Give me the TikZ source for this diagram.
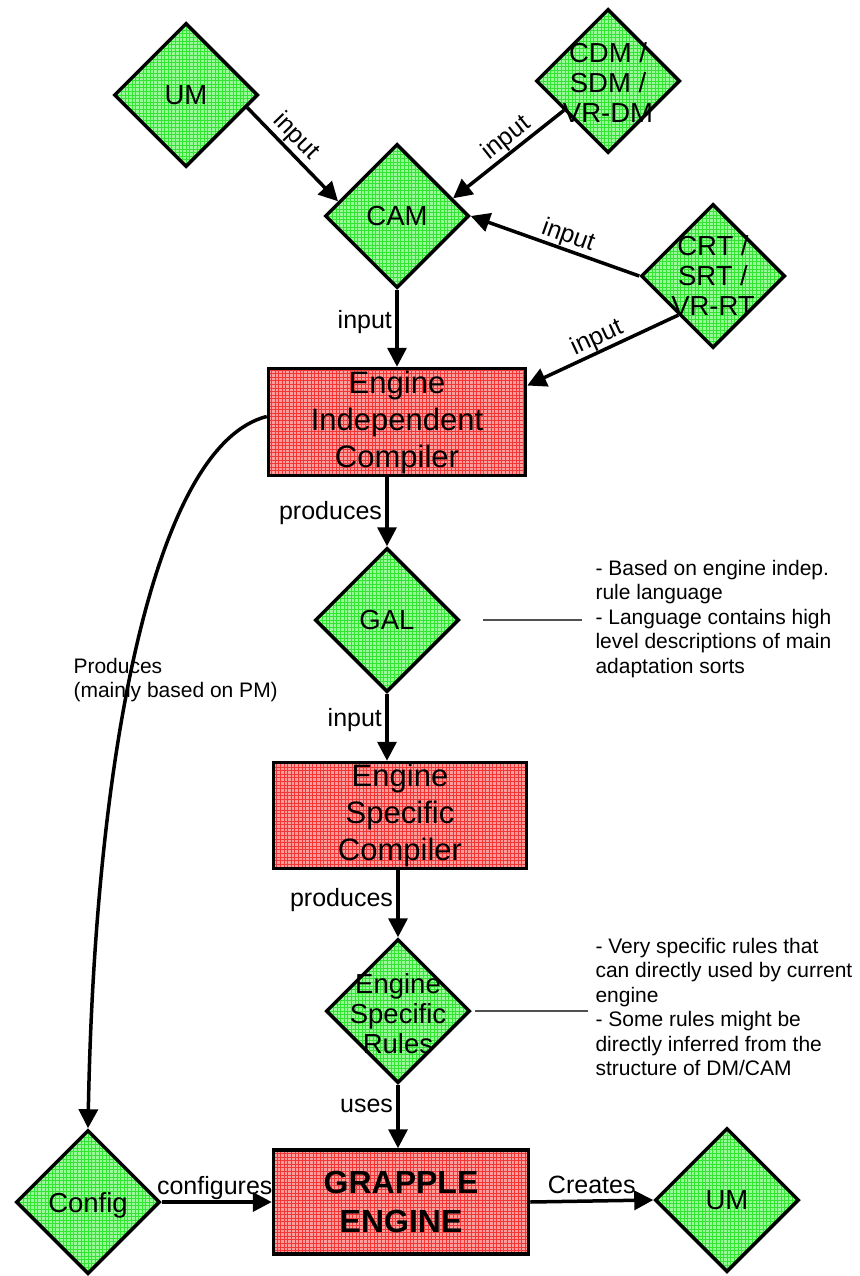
\documentclass[tikz,border=0pt]{standalone}
\usepackage{fontspec}
\setmainfont{Liberation Sans}
\usetikzlibrary{shapes.geometric, arrows.meta, calc}

\definecolor{dfill}{HTML}{98FA98}
\definecolor{dgrid}{HTML}{33E433}
\definecolor{bfill}{HTML}{FF9C9C}
\definecolor{bgrid}{HTML}{F23535}
\definecolor{notegray}{HTML}{505050}

\begin{document}
\begin{tikzpicture}[x=1pt, y=-1pt,
  dia/.style={diamond, draw, line width=3.5pt, fill=dfill, shape aspect=1,
    minimum width=144pt, minimum height=144pt, inner sep=0pt,
    path picture={\draw[dgrid, line width=0.6pt]
      (path picture bounding box.south west) grid[step=3.6pt]
      (path picture bounding box.north east);}},
  dtext/.style={align=center, font=\fontsize{27.5}{30}\selectfont},
  box/.style={rectangle, draw, line width=3.5pt, fill=bfill, inner sep=0pt,
    align=center, font=\fontsize{31}{37}\selectfont,
    path picture={\draw[bgrid, line width=0.6pt]
      (path picture bounding box.south west) grid[step=3.6pt]
      (path picture bounding box.north east);}},
  arr/.style={line width=3.5pt, -{Triangle[length=19pt, width=19pt]}},
  lab/.style={font=\fontsize{25}{29}\selectfont, text=black, text depth=0.21em},
  note/.style={align=left, font=\fontsize{21}{24.5}\selectfont},
  noteline/.style={draw=notegray, line width=1.3pt}
]
\useasboundingbox (0,0) rectangle (859,1276);
\fill[white] (0,0) rectangle (859,1276);

% model sources
\node[dia, label={[dtext]center:UM}] (umin) at (186,95) {};
\node[dia, label={[dtext]center:CAM}] (cam) at (397,216) {};
\node[dia, label={[dtext, yshift=-2pt]center:{CDM /\\SDM /\\VR-DM}}] (cdm) at (608,81) {};
\node[dia, label={[dtext]center:{CRT /\\SRT /\\VR-RT}}] (crt) at (713,276) {};

% compilation chain
\node[box, minimum width=257pt, minimum height=107pt] (eic) at (397,422)
  {Engine\\Independent\\Compiler};
\node[dia, label={[dtext]center:GAL}] (gal) at (387,620) {};
\node[box, minimum width=253pt, minimum height=106pt] (esc) at (400,815.5)
  {Engine\\Specific\\Compiler};
\node[dia, label={[dtext, yshift=-3pt]center:{Engine\\Specific\\Rules}}] (esr) at (398,1011) {};
\node[box, minimum width=255pt, minimum height=104pt,
  font=\fontsize{32}{39}\bfseries] (grapple) at (401,1202)
  {GRAPPLE\\ENGINE};
\node[dia, label={[dtext, yshift=-3pt]center:Config}] (cfg) at (88,1202) {};
\node[dia, label={[dtext]center:UM}] (umout) at (727,1200) {};

% inputs to CAM and compiler
\draw[arr] ($(umin.east)!0.17!(umin.south)$) -- node[lab, sloped, above=1pt, pos=0.42] {input}
  ($(cam.west)!0.2!(cam.north)$);
\draw[arr] ($(cdm.west)!0.4!(cdm.south)$) -- node[lab, sloped, above, pos=0.44] {input}
  ($(cam.east)!0.24!(cam.north)$);
\draw[arr] (crt.west) -- node[lab, sloped, above, pos=0.45] {input} (cam.east);
\draw[arr] ($(crt.west)!0.53!(crt.south)$) -- node[lab, sloped, above] {input}
  ($(eic.north east)!0.17!(eic.south east)$);
\draw[arr] (cam.south) -- node[lab, left, pos=0.4] {input} (eic.north);

% main chain
\draw[arr] (eic.south -| gal.north) -- node[lab, left] {produces} (gal.north);
\draw[arr] (gal.south) -- node[lab, left, pos=0.37] {input} (gal.south |- esc.north);
\draw[arr] (esc.south -| esr.north) -- node[lab, left, pos=0.42] {produces} (esr.north);
\draw[arr] (esr.south) -- node[lab, left, pos=0.35] {uses} (esr.south |- grapple.north);
\draw[arr] (cfg.east) -- node[lab, above, xshift=-2pt] {configures} (grapple.west);
\draw[arr] (grapple.east) -- node[lab, above] {Creates} (umout.west);

% configuration path
\draw[arr] ($(eic.north west)!0.45!(eic.south west)$)
  .. controls (155,445) and (95,750) .. (cfg.north);
\node[note, anchor=west] (prodtxt) at (70,680) {Produces\\(mainly based on PM)};

% annotations
\node[note, anchor=west] (galtxt) at (592,619)
  {- Based on engine indep.\\rule language\\- Language contains high\\level descriptions of main\\adaptation sorts};
\draw[noteline] ([xshift=22pt]gal.east) -- ([xshift=-10pt]galtxt.west |- gal.east);
\node[note, anchor=west] (esrtxt) at (592,1007)
  {- Very specific rules that\\can directly used by current\\engine\\- Some rules might be\\directly inferred from the\\structure of DM/CAM};
\draw[noteline] ([xshift=3pt]esr.east) -- ([xshift=-4pt]esrtxt.west |- esr.east);
\end{tikzpicture}
\end{document}
